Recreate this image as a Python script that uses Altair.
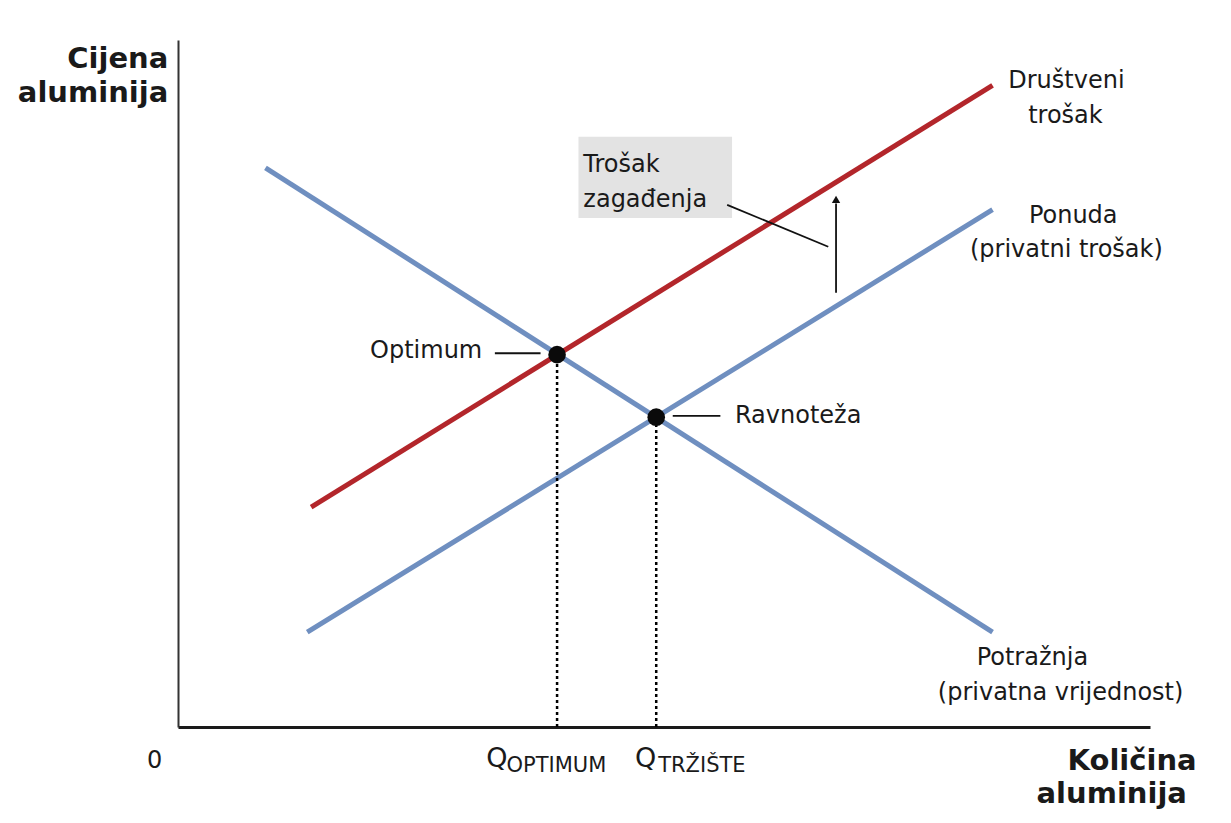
import altair as alt
import pandas as pd

# ---- data (quantity 0..100, price 0..100) ----
demand_q = [9.0, 83.8]
demand_p = [81.4, 13.8]
supply_q = [13.3, 83.8]
supply_p = [13.8, 75.3]
social_q = [13.7, 83.8]
social_p = [32.0, 93.4]

point_names = ["Optimum", "Ravnoteža"]
point_q = [39.0, 49.2]
point_p = [54.2, 45.1]

# annotation leaders: (q1, p1, q2, p2)
leader_q1 = [32.6, 50.9, 56.5]
leader_p1 = [54.4, 45.3, 76.0]
leader_q2 = [37.3, 55.8, 66.9]
leader_p2 = [54.4, 45.3, 69.9]

arrow_q = [67.7]
arrow_p_from = [63.2]
arrow_p_to = [76.2]
arrow_head_p = [76.8]

box_q = [41.2, 57.0]
box_p = [74.1, 85.9]

# labels
reg_text = ["Trošak", "zagađenja", "Društveni", "trošak", "Ponuda", "(privatni trošak)",
            "Potražnja", "(privatna vrijednost)"]
reg_q = [41.7, 41.7, 91.4, 91.3, 92.1, 91.4, 87.9, 90.8]
reg_p = [80.8, 75.7, 93.0, 87.9, 73.4, 68.4, 9.0, 3.9]
reg_align = ["left", "left", "center", "center", "center", "center", "center", "center"]

side_text = ["Optimum", "Ravnoteža"]
side_q = [31.3, 57.3]
side_p = [53.7, 44.25]
side_align = ["right", "left"]

bold_text = ["Cijena", "aluminija", "Količina", "aluminija"]
bold_q = [-1.0, -1.0, 104.8, 103.8]
bold_p = [95.9, 91.0, -6.26, -11.06]

zero_text = ["0"]
zero_q = [-2.4]
zero_p = [-6.0]

qbig_text = ["Q", "Q"]
qbig_q = [32.8, 48.1]
qbig_p = [-5.8, -5.8]
qsub_text = ["OPTIMUM", "TRŽIŠTE"]
qsub_q = [33.8, 49.4]
qsub_p = [-6.55, -6.55]

FONT = "DejaVu Sans"
BLUE = "#6f8fc0"
RED = "#b3262b"

xs = alt.Scale(domain=[0, 100], nice=False, zero=False)
ys = alt.Scale(domain=[0, 100], nice=False, zero=False)
ax_x = alt.Axis(title=None, labels=False, ticks=False, grid=False,
                domainColor="#1a1a1a", domainWidth=3)
ax_y = alt.Axis(title=None, labels=False, ticks=False, grid=False,
                domainColor="#333333", domainWidth=2)

def X(f="q"):
    return alt.X(f"{f}:Q", scale=xs, axis=ax_x)

def Y(f="p"):
    return alt.Y(f"{f}:Q", scale=ys, axis=ax_y)

curves = pd.DataFrame({
    "q": demand_q + supply_q + social_q,
    "p": demand_p + supply_p + social_p,
    "curve": ["demand"] * 2 + ["supply"] * 2 + ["social"] * 2,
})
points = pd.DataFrame({"name": point_names, "q": point_q, "p": point_p})
drops = pd.DataFrame({"q": point_q, "p": point_p, "p0": [0, 0]})
leaders = pd.DataFrame({"q": leader_q1, "p": leader_p1, "q2": leader_q2, "p2": leader_p2})
arrow = pd.DataFrame({"q": arrow_q, "p": arrow_p_from, "p2": arrow_p_to, "ph": arrow_head_p})
box = pd.DataFrame({"q": [box_q[0]], "q2": [box_q[1]], "p": [box_p[0]], "p2": [box_p[1]]})
reg = pd.DataFrame({"t": reg_text, "q": reg_q, "p": reg_p, "a": reg_align})
side = pd.DataFrame({"t": side_text, "q": side_q, "p": side_p, "a": side_align})
bold = pd.DataFrame({"t": bold_text, "q": bold_q, "p": bold_p})
zero = pd.DataFrame({"t": zero_text, "q": zero_q, "p": zero_p})
qbig = pd.DataFrame({"t": qbig_text, "q": qbig_q, "p": qbig_p})
qsub = pd.DataFrame({"t": qsub_text, "q": qsub_q, "p": qsub_p})

box_layer = alt.Chart(box).mark_rect(color="#e3e3e3").encode(
    x=X(), x2="q2:Q", y=Y(), y2="p2:Q")

curve_layer = alt.Chart(curves).mark_line(strokeWidth=5, strokeCap="butt").encode(
    x=X(), y=Y(),
    color=alt.Color("curve:N", scale=alt.Scale(domain=["demand", "supply", "social"],
                                               range=[BLUE, BLUE, RED]), legend=None),
    detail="curve:N")

drop_layer = alt.Chart(drops).mark_rule(color="#000000", strokeWidth=2.5,
                                        strokeDash=[3, 3]).encode(
    x=X(), y=Y("p0"), y2="p:Q")

leader_layer = alt.Chart(leaders).mark_rule(color="#111111", strokeWidth=1.8).encode(
    x=X(), y=Y(), x2="q2:Q", y2="p2:Q")

arrow_shaft = alt.Chart(arrow).mark_rule(color="#111111", strokeWidth=1.8).encode(
    x=X(), y=Y(), y2="p2:Q")
arrow_head = alt.Chart(arrow).mark_point(shape="triangle-up", filled=True, size=70,
                                         color="#111111", opacity=1).encode(
    x=X(), y=Y("ph"))

point_layer = alt.Chart(points).mark_circle(size=310, color="#0a0a0a", opacity=1).encode(
    x=X(), y=Y())

def text_layer(df, size, weight="normal", align="left", field_align=False):
    layers = []
    if field_align:
        for a in df["a"].unique():
            sub = df[df["a"] == a]
            layers.append(alt.Chart(sub).mark_text(
                font=FONT, fontSize=size, fontWeight=weight, align=a,
                baseline="alphabetic", color="#1a1a1a").encode(x=X(), y=Y(), text="t:N"))
        return alt.layer(*layers)
    return alt.Chart(df).mark_text(font=FONT, fontSize=size, fontWeight=weight, align=align,
                                   baseline="alphabetic", color="#1a1a1a").encode(
        x=X(), y=Y(), text="t:N")

chart = alt.layer(
    box_layer,
    curve_layer,
    drop_layer,
    leader_layer,
    arrow_shaft,
    arrow_head,
    point_layer,
    text_layer(reg, 24, field_align=True),
    text_layer(side, 24, field_align=True),
    text_layer(bold, 29, weight="bold", align="right"),
    text_layer(zero, 24, align="center"),
    text_layer(qbig, 27, align="center"),
    text_layer(qsub, 21, align="left"),
).properties(
    width=972, height=687,
    autosize=alt.AutoSizeParams(type="none"),
    padding={"left": 170, "top": 32, "right": 73, "bottom": 88},
).configure(background="white").configure_view(strokeWidth=0, stroke="transparent")

chart.save("out.html", embed_options={"renderer": "svg", "actions": False})
